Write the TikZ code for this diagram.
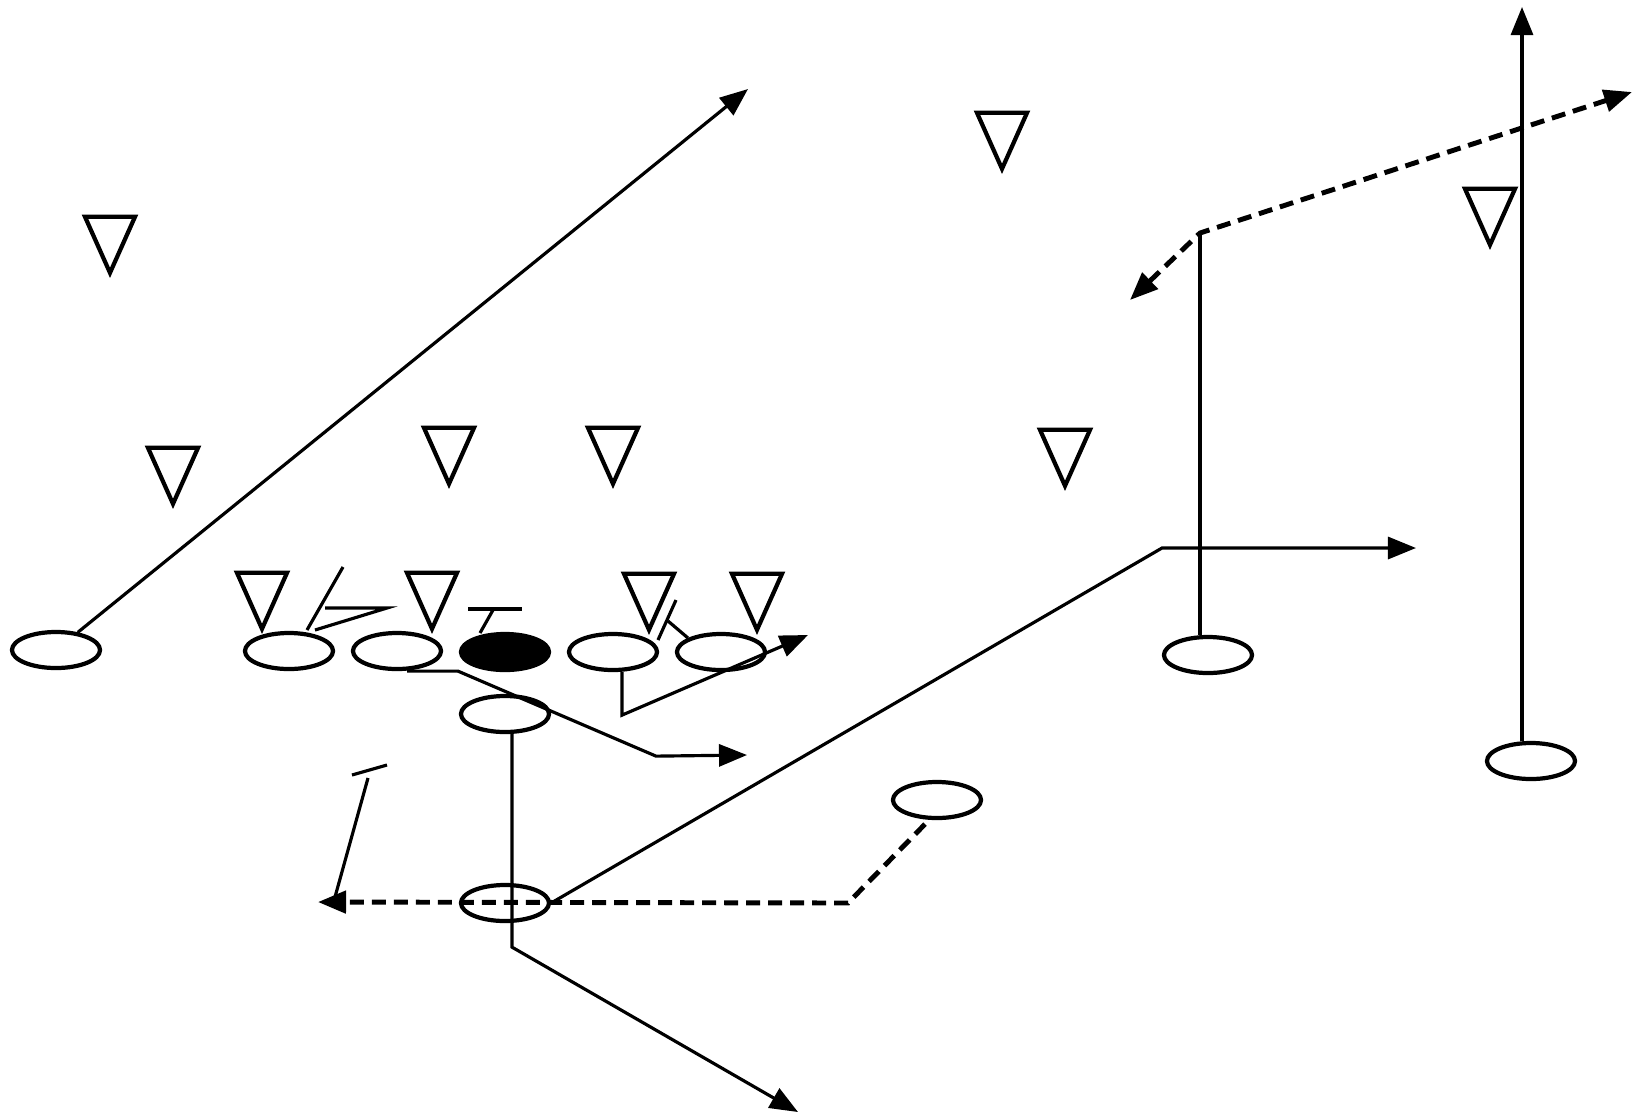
\documentclass[tikz,border=0pt]{standalone}
\usepackage{tikz}
\usetikzlibrary{shapes.geometric,arrows.meta,calc}
\tikzset{
    >={Triangle[length=0.28cm, width=0.22cm]},
    player/.style={ellipse, draw, line width=1.2pt, minimum width=0.88cm, minimum height=0.36cm, inner sep=0},
    ball/.style={player, fill=black},
    defender/.style={isosceles triangle, isosceles triangle stretches, shape border rotate=-90, draw, line width=1.2pt, minimum width=0.5cm, minimum height=0.56cm, inner sep=0},
    route/.style={line width=0.9pt},
    run/.style={route, ->},
    motion/.style={line width=1.4pt, dash pattern=on 0.14cm off 0.08cm},
}
\begin{document}
\begin{tikzpicture}[x=0.01cm, y=-0.01cm]
    \useasboundingbox (0,0) rectangle (1645,1117);
    % offence
    \node[player] (lt) at (56,650) {};
    \node[player] (ltk) at (289,651) {};
    \node[player] (lg) at (397,651) {};
    \node[ball] (ctr) at (505,652) {};
    \node[player] (rg) at (613,652) {};
    \node[player] (rt) at (721,652) {};
    \node[player] (qb) at (505,714) {};
    \node[player] (rb) at (505,903) {};
    \node[player] (hb) at (937,800) {};
    \node[player] (slot) at (1208,655) {};
    \node[player] (wr) at (1531,761) {};
    % defence
    \foreach \n/\x/\y in {d1/110/233, d2/1002/129, d3/1490/205, d4/173/464, d5/449/444, d6/613/444, d7/1065/446, d8/262/589, d9/432/589, d10/649/590, d11/757/590}
        \node[defender] (\n) at (\x,\y) {};

    \coordinate (ltend) at (748,89);
    \coordinate (pullend) at (747,755);
    \coordinate (rgend) at (808,635);
    \coordinate (qbend) at (798,1112);
    \coordinate (rbturn) at (1162,548);
    \coordinate (rbend) at (1416,548);
    \coordinate (hbturn) at (848,903);
    \coordinate (hbend) at (318,902);
    \coordinate (slottop) at (1200,233);
    \coordinate (slotin) at (1130,300);
    \coordinate (slotout) at (1632,92);
    \coordinate (wrend) at (1522,7);

    % blocks
    \draw[route] ($(ltk)+(18,-21)$) -- ++(36,-63);
    \draw[route] ($(ltk)+(36,-43)$) -- ++(62,0) -- ($(ltk)+(26,-21)$);
    \draw[route] ($(ctr)+(-25,-19)$) -- ++(13,-23);
    \draw[route] ($(ctr)+(-37,-43)$) -- ++(54,0);
    \draw[route] ($(rg)+(45,-12)$) -- ++(18,-40);
    \draw[route] ($(rt)+(-33,-14)$) -- ++(-20,-17);
    \draw[route] (352,775) -- (387,765);
    \draw[route] (368,778) -- (335,897);

    % routes
    \draw[run] (lt) -- (ltend);
    \draw[run] ($(lg.south)+(10,0)$) -- ++(51,0) -- ++(198,85) -- (pullend);
    \draw[run] ($(rg.south)+(9,0)$) -- ++(0,43) -- (rgend);
    \draw[run] ($(qb.south)+(7,0)$) -- ++(0,213) -- (qbend);
    \draw[run] (rb.east) -- (rbturn) -- (rbend);
    \draw[route] ($(slot.north)+(-8,0)$) -- (slottop);
    \draw[run] ($(wr.north)+(-9,0)$) -- (wrend);
    \draw[motion, ->] ($(hb.south)+(-12,4)$) -- (hbturn) -- (hbend);
    \draw[motion, <->] (slotin) -- (slottop) -- (slotout);
\end{tikzpicture}
\end{document}
